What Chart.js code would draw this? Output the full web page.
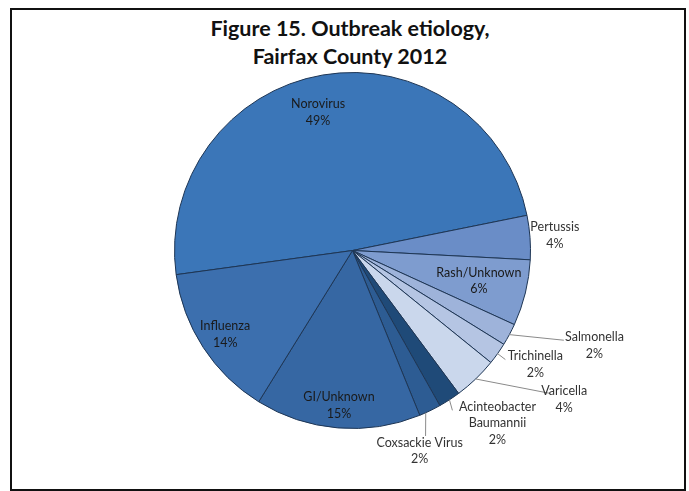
<!DOCTYPE html>
<html lang="en">
<head>
  <meta charset="UTF-8">
  <title>Outbreak etiology</title>
  <script src="https://cdn.jsdelivr.net/npm/chart.js"></script>
  <style>
    body { margin: 0; background: #fff; font-family: Lato, 'Open Sans', sans-serif; }
    #frame { position: absolute; left: 10px; top: 8px; width: 672px; height: 479px; border: 2px solid #111; }
    #title { position: absolute; left: 0; top: 14px; width: 700px; text-align: center;
             font-weight: bold; font-size: 21.5px; line-height: 28px; color: #111; }
    canvas { position: absolute; left: 0; top: 0; }
  </style>
</head>
<body>
  <div id="frame"></div>
  <div id="title">Figure 15. Outbreak etiology,<br>Fairfax County 2012</div>
  <canvas id="pie" width="689" height="491"></canvas>

  <script>
    // data, in drawing order (clockwise from Norovirus)
    const categories = ['Norovirus', 'Pertussis', 'Rash/Unknown', 'Salmonella', 'Trichinella',
                        'Varicella', 'Acinteobacter\nBaumannii', 'Coxsackie Virus', 'GI/Unknown', 'Influenza'];
    const percents = [49, 4, 6, 2, 2, 4, 2, 2, 15, 14];

    const colors = ['#3b76b8', '#6a8dc7', '#7e9ccf', '#9eb3da', '#b5c5e3',
                    '#cad7ec', '#1f4a78', '#2d5c93', '#3667a3', '#3c6fae'];

    // label placement relative to each slice: r = fraction of radius, d = degrees off mid angle
    // lead = [start offset deg, end r, end d]
    const placement = [
      { r: 0.80, d: -4.4 },
      { r: 1.14, d: 0 },
      { r: 0.73, d: -0.3 },
      { r: 1.46, d: -6.8, lead: [0, 1.29, -5.2] },
      { r: 1.21, d: -3.5, lead: [0, 1.055, 0.1] },
      { r: 1.454, d: -11.1, lead: [0, 1.371, -10.35] },
      { r: 1.267, d: -7, lead: [0, 1.059, 1] },
      { r: 1.189, d: 7.3, lead: [1.5, 1.12, 4.3] },
      { r: 0.874, d: 0.2 },
      { r: 0.857, d: -0.4 }
    ];

    const labelPlugin = {
      id: 'sliceLabels',
      afterDatasetsDraw(chart) {
        const ctx = chart.ctx;
        const meta = chart.getDatasetMeta(0);
        ctx.save();
        ctx.font = '12.5px Lato, sans-serif';
        ctx.textAlign = 'center';
        ctx.textBaseline = 'middle';
        meta.data.forEach((arc, i) => {
          const { x, y, startAngle, endAngle, outerRadius } =
            arc.getProps(['x', 'y', 'startAngle', 'endAngle', 'outerRadius'], true);
          const mid = (startAngle + endAngle) / 2;
          const pt = (r, d) => {
            const a = mid + d * Math.PI / 180;
            return [x + Math.cos(a) * r * outerRadius, y + Math.sin(a) * r * outerRadius];
          };
          const p = placement[i];
          if (p.lead) {
            const s = pt(1, p.lead[0]);
            const e = pt(p.lead[1], p.lead[2]);
            ctx.strokeStyle = '#8a8a8a';
            ctx.lineWidth = 1;
            ctx.beginPath();
            ctx.moveTo(s[0], s[1]);
            ctx.lineTo(e[0], e[1]);
            ctx.stroke();
          }
          const lines = categories[i].split('\n').concat(percents[i] + '%');
          const c = pt(p.r, p.d);
          const lh = 16.5;
          ctx.fillStyle = p.r > 1 ? '#333' : '#1a1a1a';
          lines.forEach((t, k) => {
            ctx.fillText(t, c[0], c[1] + (k - (lines.length - 1) / 2) * lh);
          });
        });
        ctx.restore();
      }
    };

    new Chart(document.getElementById('pie'), {
      type: 'pie',
      data: {
        labels: categories,
        datasets: [{
          data: percents,
          backgroundColor: colors,
          borderColor: '#1d3554',
          borderWidth: 1
        }]
      },
      options: {
        responsive: false,
        animation: false,
        rotation: 262.2,
        layout: { padding: { left: 174, top: 72, right: 158, bottom: 62 } },
        plugins: { legend: { display: false }, tooltip: { enabled: false } }
      },
      plugins: [labelPlugin]
    });
  </script>
</body>
</html>
